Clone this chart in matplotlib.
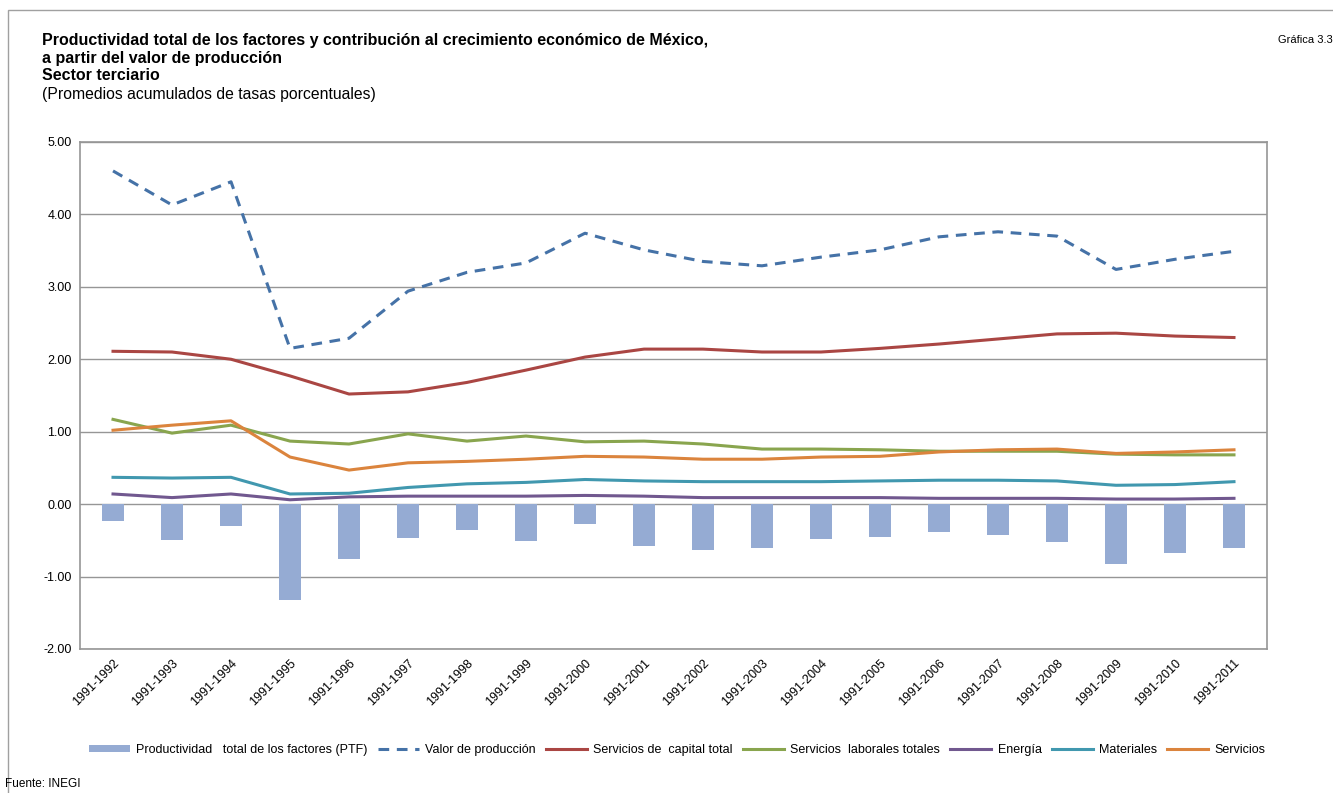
import matplotlib.pyplot as plt
import numpy as np
from matplotlib.patches import Rectangle

plt.rcParams['font.family'] = ['Liberation Sans', 'DejaVu Sans']

periodos = ['1991-1992', '1991-1993', '1991-1994', '1991-1995', '1991-1996', '1991-1997',
            '1991-1998', '1991-1999', '1991-2000', '1991-2001', '1991-2002', '1991-2003',
            '1991-2004', '1991-2005', '1991-2006', '1991-2007', '1991-2008', '1991-2009',
            '1991-2010', '1991-2011']

ptf = [-0.23, -0.50, -0.30, -1.33, -0.76, -0.47, -0.36, -0.51, -0.28, -0.58,
       -0.64, -0.60, -0.48, -0.46, -0.39, -0.42, -0.52, -0.83, -0.68, -0.61]
valor_produccion = [4.60, 4.13, 4.45, 2.15, 2.29, 2.94, 3.20, 3.33, 3.74, 3.51,
                    3.35, 3.29, 3.41, 3.51, 3.69, 3.76, 3.70, 3.24, 3.38, 3.49]
capital = [2.11, 2.10, 2.00, 1.77, 1.52, 1.55, 1.68, 1.85, 2.03, 2.14,
           2.14, 2.10, 2.10, 2.15, 2.21, 2.28, 2.35, 2.36, 2.32, 2.30]
laborales = [1.17, 0.98, 1.09, 0.87, 0.83, 0.97, 0.87, 0.94, 0.86, 0.87,
             0.83, 0.76, 0.76, 0.75, 0.73, 0.73, 0.73, 0.69, 0.68, 0.68]
energia = [0.14, 0.09, 0.14, 0.06, 0.10, 0.11, 0.11, 0.11, 0.12, 0.11,
           0.09, 0.09, 0.09, 0.09, 0.08, 0.08, 0.08, 0.07, 0.07, 0.08]
materiales = [0.37, 0.36, 0.37, 0.14, 0.15, 0.23, 0.28, 0.30, 0.34, 0.32,
              0.31, 0.31, 0.31, 0.32, 0.33, 0.33, 0.32, 0.26, 0.27, 0.31]
servicios = [1.02, 1.09, 1.15, 0.65, 0.47, 0.57, 0.59, 0.62, 0.66, 0.65,
             0.62, 0.62, 0.65, 0.66, 0.72, 0.75, 0.76, 0.70, 0.72, 0.75]

titulo = ['Productividad total de los factores y contribución al crecimiento económico de México,',
          'a partir del valor de producción',
          'Sector terciario']

fig = plt.figure(figsize=(13.33, 7.93), dpi=100)
fig.patches.append(Rectangle((0.006, -0.01), 1.1, 0.998, transform=fig.transFigure,
                             fill=False, edgecolor='#a0a0a0', linewidth=1))
ax = fig.add_axes([0.060, 0.1816, 0.8905, 0.6394])

x = np.arange(len(periodos))
ax.bar(x, ptf, width=0.38, color='#95abd3', label='Productividad   total de los factores (PTF)', zorder=2)
ax.plot(x, valor_produccion, color='#4572a7', lw=2.2, dashes=(3.5, 2.5), label='Valor de producción', zorder=3)
ax.plot(x, capital, color='#aa4643', lw=2.2, label='Servicios de  capital total', zorder=3)
ax.plot(x, laborales, color='#89a54e', lw=2.2, label='Servicios  laborales totales', zorder=3)
ax.plot(x, energia, color='#71588f', lw=2.2, label='Energía', zorder=3)
ax.plot(x, materiales, color='#4198af', lw=2.2, label='Materiales', zorder=3)
ax.plot(x, servicios, color='#db843d', lw=2.2, label='Servicios', zorder=3)

ax.set_xlim(-0.56, len(periodos) - 0.44)
ax.set_ylim(-2, 5)
ax.set_yticks(np.arange(-2, 5.01, 1))
ax.set_yticklabels(['%.2f' % v for v in np.arange(-2, 5.01, 1)], fontsize=9)
ax.set_xticks(x)
ax.set_xticklabels(periodos, rotation=45, ha='right', rotation_mode='anchor', fontsize=9)
ax.tick_params(axis='both', length=0, pad=6)
ax.grid(axis='y', color='#969696', lw=1, zorder=0)
for s in ax.spines.values():
    s.set_color('#969696')
    s.set_linewidth(1.2)

# title lines at their own heights (~18 px apart)
for i, linea in enumerate(titulo):
    fig.text(0.0315, 1 - (40 + 18 * i) / 793, linea, fontsize=11.5, fontweight='bold', va='center')
fig.text(0.0315, 1 - 95 / 793, '(Promedios acumulados de tasas porcentuales)', fontsize=11.3, va='center')
fig.text(0.9995, 1 - 40 / 793, 'Gráfica 3.3', fontsize=8, va='center', ha='right')
fig.text(0.004, 0.011, 'Fuente: INEGI', fontsize=8.5, va='center')

handles, labels = ax.get_legend_handles_labels()
order = [6, 0, 1, 2, 3, 4, 5]
fig.legend([handles[i] for i in order], [labels[i] for i in order],
           loc='center', bbox_to_anchor=(0.508, 0.054), ncol=7, frameon=False, fontsize=9,
           handlelength=3.3, handletextpad=0.5, columnspacing=0.8, handleheight=0.5)

fig.savefig('out.png', dpi=100)
